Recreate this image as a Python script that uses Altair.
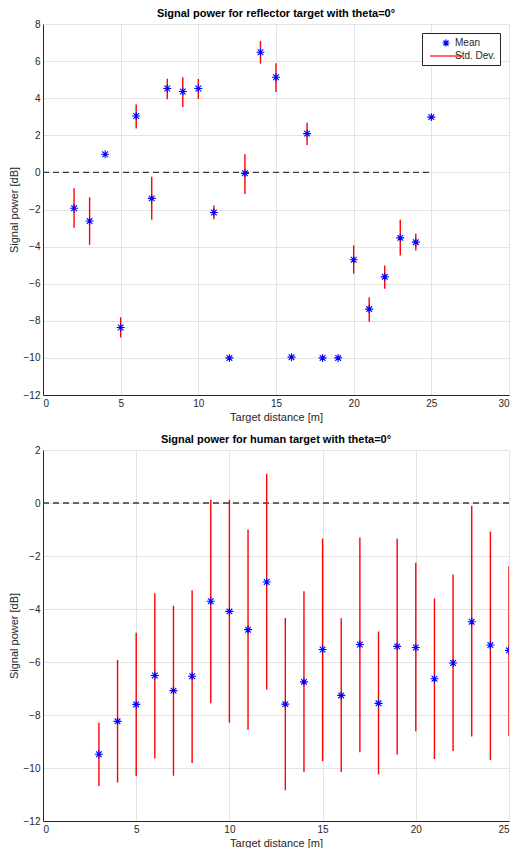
import altair as alt
import pandas as pd

# ---------------- data ----------------
top_x = list(range(2, 26))
top_mean = [-1.93, -2.62, 0.98, -8.36, 3.04, -1.40, 4.52, 4.36, 4.52, -2.16, -10.0, -0.05,
            6.48, 5.13, -9.96, 2.09, -10.0, -10.0, -4.71, -7.37, -5.63, -3.53, -3.76, 2.98]
top_hi = [-0.86, -1.34, 1.05, -7.81, 3.66, -0.24, 5.05, 5.13, 5.04, -1.79, -9.95, 0.98,
          7.09, 5.89, -9.90, 2.68, -9.95, -9.95, -3.93, -6.73, -5.02, -2.55, -3.31, 3.05]
top_lo = [-2.98, -3.90, 0.91, -8.90, 2.36, -2.55, 3.95, 3.52, 3.96, -2.53, -10.05, -1.16,
          5.86, 4.34, -10.02, 1.48, -10.05, -10.05, -5.46, -8.05, -6.27, -4.48, -4.21, 2.91]

bot_x = list(range(3, 26))
bot_mean = [-9.48, -8.24, -7.60, -6.51, -7.08, -6.54, -3.71, -4.09, -4.78, -2.98, -7.59, -6.75,
            -5.53, -7.26, -5.34, -7.56, -5.41, -5.45, -6.63, -6.04, -4.48, -5.36, -5.56]
bot_hi = [-8.29, -5.92, -4.90, -3.41, -3.88, -3.29, 0.12, 0.12, -1.00, 1.10, -4.34, -3.33,
          -1.34, -4.35, -1.30, -4.85, -1.35, -2.25, -3.60, -2.70, -0.10, -1.08, -2.39]
bot_lo = [-10.68, -10.55, -10.31, -9.64, -10.29, -9.81, -7.56, -8.29, -8.56, -7.04, -10.84, -10.15,
          -9.74, -10.15, -9.41, -10.24, -9.49, -8.61, -9.66, -9.36, -8.81, -9.70, -8.80]

series_names = ["Mean", "Std. Dev."]
top_title = "Signal power for reflector target with theta=0°"
bot_title = "Signal power for human target with theta=0°"
x_title = "Target distance [m]"
y_title = "Signal power [dB]"

STAR = "M-0.7,0L0.7,0M0,-0.7L0,0.7M-0.5,-0.5L0.5,0.5M-0.5,0.5L0.5,-0.5"
LINE = "M-3.2,0L3.2,0"
FONT = "Liberation Sans"
W, H = 466, 371


def panel(xs, mean, hi, lo, title, xmax, xticks, ymin, ymax, yticks, dash_end):
    df = pd.DataFrame({"x": xs, "mean": mean, "hi": hi, "lo": lo, "series": "Mean"})
    dash = pd.DataFrame({"x": [0, dash_end], "y": [0, 0]})
    xsc = alt.Scale(domain=[0, xmax], nice=False, zero=False)
    ysc = alt.Scale(domain=[ymin, ymax], nice=False, zero=False)
    xax = alt.Axis(values=xticks, title=x_title, grid=True, format="d", labelOverlap=False)
    yax = alt.Axis(values=yticks, title=y_title, grid=True, format="d", labelOverlap=False)

    dash_layer = alt.Chart(dash).mark_line(
        strokeDash=[6, 4], color="#3a3a3a", strokeWidth=1.3
    ).encode(
        x=alt.X("x:Q", scale=xsc, axis=xax),
        y=alt.Y("y:Q", scale=ysc, axis=yax),
    )
    rules = alt.Chart(df).mark_rule(color="#ff0000", strokeWidth=1.4, clip=True).encode(
        x=alt.X("x:Q", scale=xsc, axis=xax),
        y=alt.Y("lo:Q", scale=ysc, axis=yax),
        y2="hi:Q",
    )
    leg = alt.Legend(
        title=None, orient="top-right", offset=9, padding=4,
        strokeColor="#262626", fillColor="white", labelFontSize=10,
        labelFont=FONT, labelColor="#262626", symbolSize=100,
        symbolStrokeWidth=1.2, rowPadding=1, labelOffset=3, symbolOffset=14,
    )
    pts = alt.Chart(df).mark_point(
        filled=False, size=130, strokeWidth=1.1, clip=True, opacity=1
    ).encode(
        x=alt.X("x:Q", scale=xsc, axis=xax),
        y=alt.Y("mean:Q", scale=ysc, axis=yax),
        color=alt.Color("series:N", scale=alt.Scale(domain=series_names, range=["#0000ff", "#ff0000"]), legend=leg),
        shape=alt.Shape("series:N", scale=alt.Scale(domain=series_names, range=[STAR, LINE]), legend=leg),
    )
    return alt.layer(dash_layer, rules, pts).properties(
        width=W, height=H,
        title=alt.Title(title, fontSize=11, fontWeight="bold", font=FONT, color="#000000", offset=0),
    )


top = panel(top_x, top_mean, top_hi, top_lo, top_title, 30, list(range(0, 31, 5)),
            -12, 8, list(range(-12, 9, 2)), 25)
bot = panel(bot_x, bot_mean, bot_hi, bot_lo, bot_title, 25, list(range(0, 26, 5)),
            -12, 2, list(range(-12, 3, 2)), 25)

chart = alt.vconcat(top, bot, spacing=12).properties(
    padding={"left": 0, "top": 0, "right": 0, "bottom": 0}
).configure(font=FONT).configure_view(stroke=None).configure_axis(
    gridColor="#e3e3e3", gridWidth=1, domainColor="#262626", domainWidth=1,
    tickSize=0, labelPadding=3, labelFontSize=10, labelColor="#262626", labelFont=FONT,
    titleFontSize=11, titleFontWeight="normal", titleColor="#262626", titleFont=FONT,
).configure_axisY(titlePadding=4).configure_axisX(titlePadding=3)

chart.save("out.html", embed_options={"renderer": "svg", "actions": False})
